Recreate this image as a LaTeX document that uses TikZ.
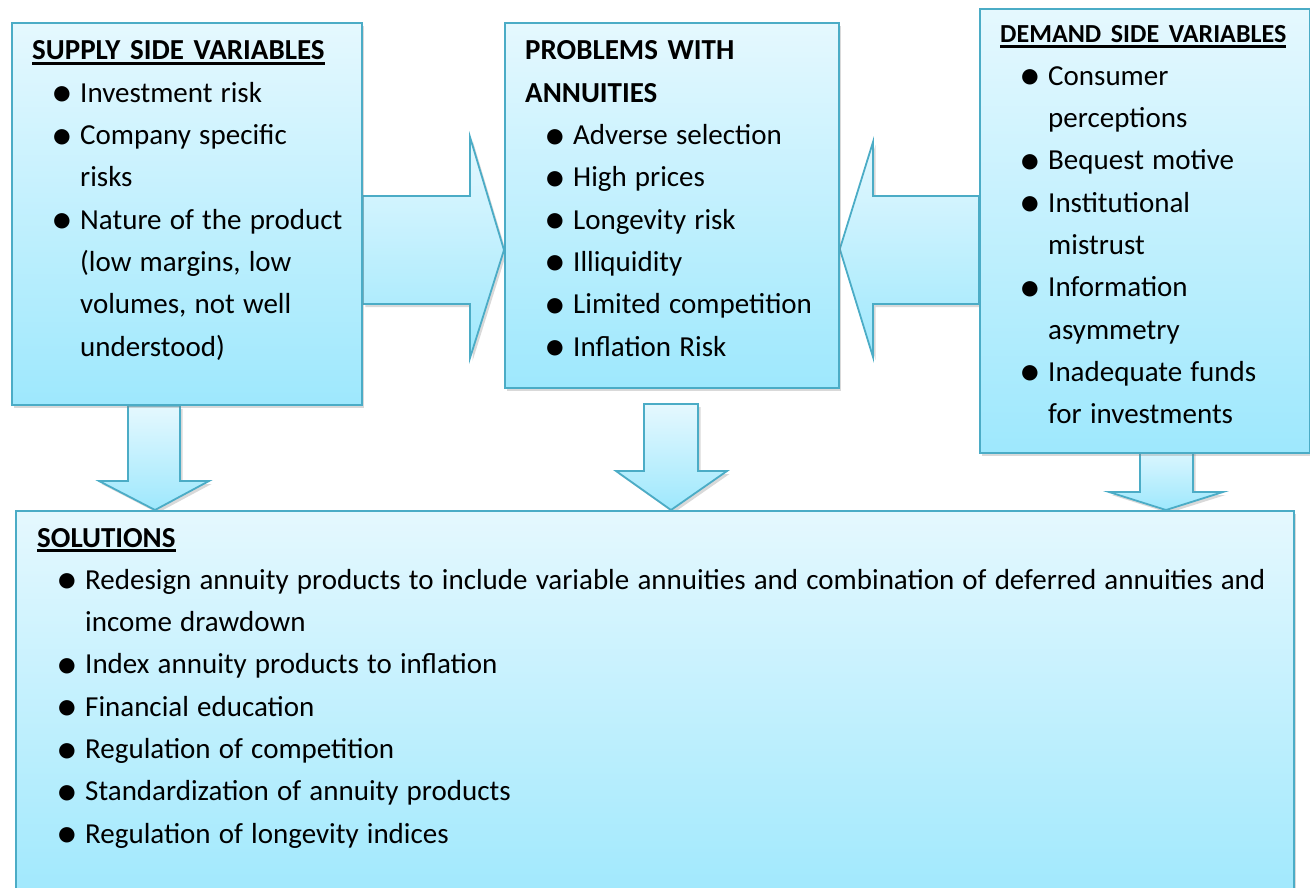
\documentclass[tikz,border=0pt]{standalone}
\usepackage{fontspec}
\setmainfont{Carlito}
\usetikzlibrary{positioning,calc,shadows,backgrounds}

\definecolor{boxline}{RGB}{75,172,198}
\definecolor{boxtop}{RGB}{229,248,254}
\definecolor{boxbot}{RGB}{158,232,253}

% bullet and hanging indent for the lists (bullets also set the word space)
\newcommand\itm{\spaceskip=8.2pt\relax\makebox[48pt][l]{\makebox[60pt]{\raisebox{-4.5pt}{\scalebox{1.5}{\textbullet}}}}}
\newcommand\cnt{\hspace*{48pt}}
% bold heading with a thick underline
\newcommand\ultitle[1]{\setbox0\hbox{\bfseries #1}\rlap{\rule[-5pt]{\wd0}{2.6pt}}\box0}

\tikzset{
  box/.style={draw=boxline, line width=1.8pt, top color=boxtop, bottom color=boxbot,
    drop shadow={opacity=0.3, shadow xshift=2.5pt, shadow yshift=-3pt},
    anchor=north west, inner sep=0pt},
  flow/.style={draw=boxline, line width=1.8pt, line join=miter, top color=boxtop, bottom color=boxbot,
    drop shadow={opacity=0.3, shadow xshift=2.5pt, shadow yshift=-3pt}},
  lst/.style={inner sep=0pt, text width=#1, align=left,
    font=\fontsize{29}{42.3}\selectfont}
}

\begin{document}
\begin{tikzpicture}[x=1pt,y=-1pt]
  \useasboundingbox (0,0) rectangle (1310,888);

  \node[box, minimum width=350pt, minimum height=382pt] (supply) at (11,22) {};
  \node[box, minimum width=334pt, minimum height=365pt] (problems) at (504,22) {};
  \node[box, minimum width=330pt, minimum height=444pt] (demand) at (979,8) {};
  \node[box, minimum width=1278pt, minimum height=400pt] (solutions) at (15,510) {};

  \begin{scope}[on background layer]
    % side arrows into the middle box
    \path[flow] (supply.east |- 0,196) -| (470,137) -- (problems.west |- 0,250)
      -- (470,358) |- (supply.east |- 0,304) -- cycle;
    \path[flow] (demand.west |- 0,196) -| (873,142) -- (problems.east |- 0,249)
      -- (873,357) |- (demand.west |- 0,304) -- cycle;
    % down arrows into the solutions
    \path[flow] (128,0 |- supply.south) -- (128,481) -- (99,481) -- (155,0 |- solutions.north)
      -- (209,481) -- (180,481) -- (180,0 |- supply.south) -- cycle;
    \path[flow] (644,404) -- (644,471) -- (616,471) -- (671,0 |- solutions.north)
      -- (727,471) -- (698,471) -- (698,404) -- cycle;
    \path[flow] (1140,442) -- (1140,492) -- (1109,492) -- (1166,0 |- solutions.north)
      -- (1223,492) -- (1193,492) -- (1193,442) -- cycle;
  \end{scope}

  \node[below right=38pt and 21pt of supply.north west, anchor=base west, lst=400pt] (suptxt) {%
    \ultitle{SUPPLY SIDE VARIABLES}\\
    \itm Investment risk\\
    \itm Company specific\\
    \cnt risks\\
    \itm Nature of the product\\
    \cnt (low margins, low\\
    \cnt volumes, not well\\
    \cnt understood)};

  \node[below right=38pt and 21pt of problems.north west, anchor=base west, lst=400pt] (probtxt) {%
    \textbf{PROBLEMS WITH}\\
    \textbf{ANNUITIES}\\
    \itm Adverse selection\\
    \itm High prices\\
    \itm Longevity risk\\
    \itm Illiquidity\\
    \itm Limited competition\\
    \itm Inflation Risk};

  \node[below right=35pt and 21pt of demand.north west, anchor=base west, lst=400pt] (demtxt) {%
    {\fontsize{26}{42.3}\selectfont\ultitle{DEMAND SIDE VARIABLES}}\\
    \itm Consumer\\
    \cnt perceptions\\
    \itm Bequest motive\\
    \itm Institutional\\
    \cnt mistrust\\
    \itm Information\\
    \cnt asymmetry\\
    \itm Inadequate funds\\
    \cnt for investments};

  \node[below right=37pt and 22pt of solutions.north west, anchor=base west, lst=1300pt] (soltxt) {%
    \ultitle{SOLUTIONS}\\
    \itm Redesign annuity products to include variable annuities and combination of deferred annuities and\\
    \cnt income drawdown\\
    \itm Index annuity products to inflation\\
    \itm Financial education\\
    \itm Regulation of competition\\
    \itm Standardization of annuity products\\
    \itm Regulation of longevity indices};
\end{tikzpicture}
\end{document}
